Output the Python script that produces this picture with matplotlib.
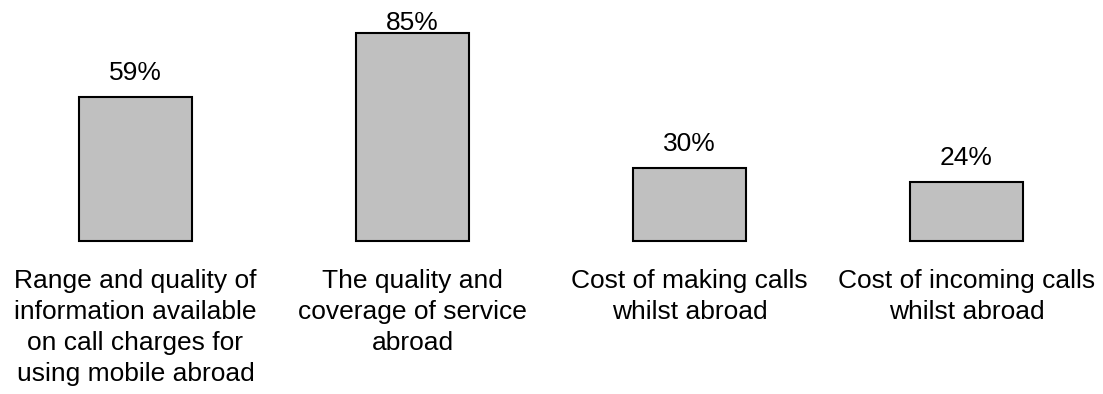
import matplotlib
matplotlib.use("Agg")
import matplotlib.pyplot as plt

plt.rcParams['font.family'] = ['Liberation Sans', 'DejaVu Sans']

categories = [
    "Range and quality of\ninformation available\non call charges for\nusing mobile abroad",
    "The quality and\ncoverage of service\nabroad",
    "Cost of making calls\nwhilst abroad",
    "Cost of incoming calls\nwhilst abroad",
]
values = [59, 85, 30, 24]
labels = ["59%", "85%", "30%", "24%"]

fig = plt.figure(figsize=(11.03, 3.94), dpi=100)
ax = fig.add_axes([0, 0, 1, 1])

x = list(range(len(values)))
ax.bar(x, values, width=0.408, color="#c0c0c0", edgecolor="black", linewidth=1.5)

for xi, v, lab in zip(x, values, labels):
    # value label above the bar, kept inside the top of the picture
    ax.text(xi, min(v + 7, 86.2), lab, ha="center", va="baseline", fontsize=19)

for xi, cat in zip(x, categories):
    ax.text(xi, -11.5, cat, ha="center", va="top", fontsize=19, linespacing=1.36)

ax.set_xlim(-0.489, 3.493)
ax.set_ylim(-62.5, 98.5)
ax.axis("off")

fig.savefig("out.png", dpi=100)
